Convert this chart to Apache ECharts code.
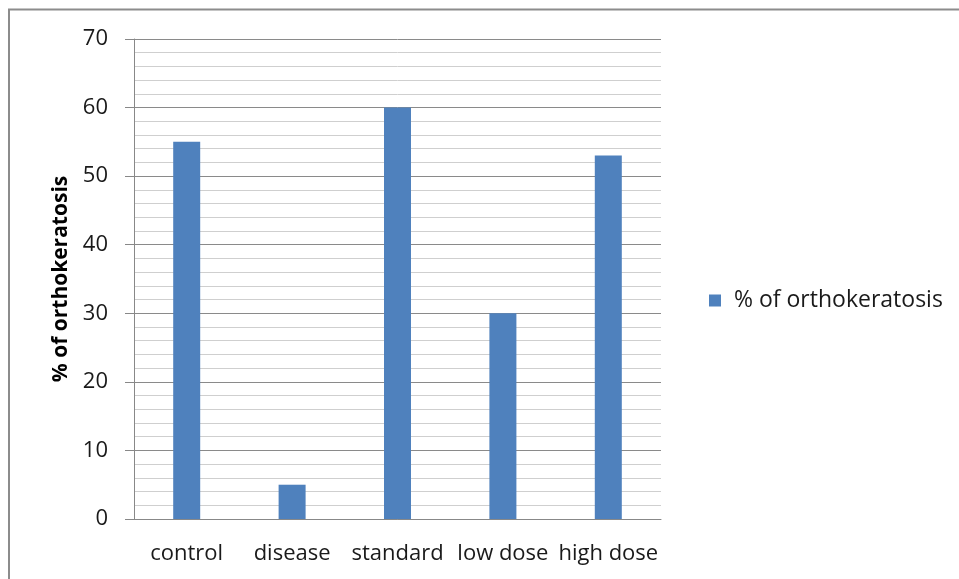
<!DOCTYPE html>
<html>
<head>
<meta charset="utf-8">
<style>
  html, body { margin: 0; padding: 0; background: #fff; }
  #chart { width: 959px; height: 579px; }
</style>
<script src="https://cdn.jsdelivr.net/npm/echarts@6/dist/echarts.min.js"></script>
</head>
<body>
<div id="chart"></div>
<script>
// Groups and the share of orthokeratosis measured in each
const categories = ['control', 'disease', 'standard', 'low dose', 'high dose'];
const orthokeratosis = [55, 5, 60, 30, 53];
const seriesName = '% of orthokeratosis';
const yTitle = '% of orthokeratosis';

const FONT = '"Open Sans", "Noto Sans", sans-serif';
const chart = echarts.init(document.getElementById('chart'), null, { renderer: 'canvas' });

chart.setOption({
  animation: false,
  backgroundColor: '#ffffff',
  graphic: [
    // frame around the chart area (top and left edges visible)
    { type: 'polyline', shape: { points: [[9, 579], [9, 9.5], [959, 9.5]] },
      style: { stroke: '#8c8c8c', lineWidth: 2, fill: null }, silent: true }
  ],
  grid: { left: 134, right: 298, top: 39, bottom: 60, containLabel: false },
  legend: {
    data: [seriesName],
    left: 704, top: 284,
    orient: 'vertical',
    icon: 'rect', itemWidth: 12, itemHeight: 12,
    textStyle: { fontFamily: FONT, fontSize: 23, color: '#1a1a1a', padding: [0, 0, 0, 8] }
  },
  xAxis: {
    type: 'category',
    data: categories,
    axisLine: { lineStyle: { color: '#888888', width: 1 } },
    axisTick: { show: false },
    axisLabel: { fontFamily: FONT, fontSize: 22, color: '#1a1a1a', margin: 24, interval: 0 },
    splitLine: { show: false }
  },
  yAxis: {
    type: 'value',
    min: 0, max: 70, interval: 10,
    name: yTitle,
    nameLocation: 'middle',
    nameGap: 62,
    nameRotate: 90,
    nameTextStyle: { fontFamily: FONT, fontSize: 21, fontWeight: 'bold', color: '#000' },
    axisLine: { show: true, lineStyle: { color: '#888888', width: 1 } },
    axisTick: { show: true, length: 9, inside: false, lineStyle: { color: '#888888' } },
    axisLabel: { fontFamily: FONT, fontSize: 22, color: '#1a1a1a', margin: 26 },
    splitLine: { show: true, lineStyle: { color: '#8a8a8a', width: 1 } },
    minorTick: { show: false, splitNumber: 5 },
    minorSplitLine: { show: true, lineStyle: { color: '#cfcfcf', width: 1 } }
  },
  series: [{
    name: seriesName,
    type: 'bar',
    data: orthokeratosis,
    barWidth: 27,
    itemStyle: { color: '#4f81bd' }
  }]
});
</script>
</body>
</html>
